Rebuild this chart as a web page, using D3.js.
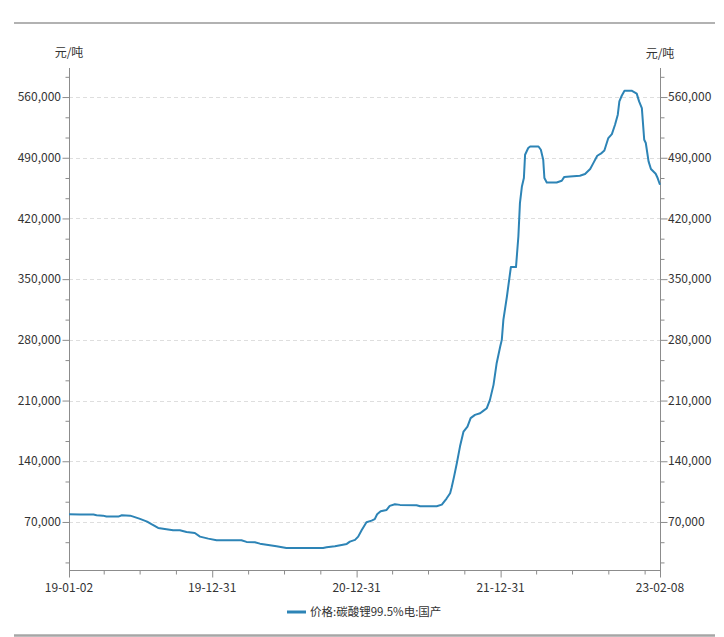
<!DOCTYPE html>
<html>
<head>
<meta charset="utf-8">
<script src="https://cdn.jsdelivr.net/npm/d3@7"></script>
<style>
  html, body { margin: 0; padding: 0; background: #fff; }
  svg { display: block; }
  text { font-family: "Noto Sans CJK SC", "Noto Sans", sans-serif; fill: #333; }
</style>
</head>
<body>
<svg id="chart" width="724" height="637"></svg>
<script>
// ---- data ----
const dates = [
  "2019-01-02","2019-01-30","2019-03-05","2019-03-13","2019-03-29","2019-04-07","2019-05-07","2019-05-16",
  "2019-06-06","2019-06-14","2019-07-01","2019-07-19","2019-07-30","2019-08-16","2019-09-06","2019-09-23",
  "2019-10-10","2019-10-27","2019-11-17","2019-11-30","2019-12-21","2020-01-11","2020-02-05","2020-03-14",
  "2020-03-27","2020-04-17","2020-04-30","2020-05-21","2020-06-11","2020-07-06","2020-10-07","2020-10-16",
  "2020-11-06","2020-11-23","2020-12-06","2020-12-14","2020-12-27","2021-01-04","2021-01-13","2021-01-25",
  "2021-02-07","2021-02-15","2021-02-21","2021-03-02","2021-03-17","2021-03-25","2021-04-07","2021-04-20",
  "2021-06-01","2021-06-10","2021-07-22","2021-08-04","2021-08-16","2021-08-25","2021-08-29","2021-09-04",
  "2021-09-11","2021-09-19","2021-09-28","2021-10-08","2021-10-16","2021-10-27","2021-11-09","2021-11-17",
  "2021-11-26","2021-12-04","2021-12-13","2021-12-21","2021-12-30","2022-01-03","2022-01-07","2022-01-16",
  "2022-01-26","2022-02-08","2022-02-14","2022-02-18","2022-02-23","2022-02-28","2022-03-03","2022-03-11",
  "2022-03-16","2022-04-06","2022-04-12","2022-04-18","2022-04-21","2022-04-27","2022-05-22","2022-06-04",
  "2022-06-10","2022-06-25","2022-07-20","2022-08-02","2022-08-15","2022-08-23","2022-09-02","2022-09-13",
  "2022-09-20","2022-09-30","2022-10-09","2022-10-17","2022-10-24","2022-10-28","2022-11-03","2022-11-10",
  "2022-11-28","2022-12-11","2022-12-17","2022-12-24","2022-12-30","2023-01-03","2023-01-10","2023-01-16",
  "2023-01-28","2023-02-02","2023-02-08"
];
const prices = [
  79000,78500,78500,77700,77300,76200,76200,77700,
  77300,76200,73500,70400,67400,63100,61600,60400,
  60400,58500,57300,53100,50800,48900,48900,48900,
  47000,46600,45000,43500,42000,40000,40000,40800,
  42000,43500,44700,47300,49300,53100,60800,69700,
  71500,73200,78900,82400,83900,88500,90500,89700,
  89300,88100,88100,90000,97000,103100,110000,122300,
  137700,156900,174200,180000,189700,193500,195400,198100,
  201200,210800,228100,253100,272300,280000,303100,330000,
  363900,363900,399200,437700,456900,466600,493500,501200,
  503000,503000,499200,487700,466600,461500,461500,463500,
  467700,468400,469300,471200,477000,483800,492300,495400,
  498400,512700,517300,528100,539600,555000,561500,567300,
  567300,563900,555000,547300,510800,507000,485800,477000,
  471500,466600,458900
];
const seriesName = "价格:碳酸锂99.5%电:国产";
const unitLabel = "元/吨";
const xLabelDates = ["2019-01-02","2019-12-31","2020-12-31","2021-12-31","2023-02-08"];
const xMinorDates = [
  "2019-03-31","2019-06-30","2019-09-30","2020-03-31","2020-06-30","2020-09-30",
  "2021-03-31","2021-06-30","2021-09-30","2022-03-31","2022-06-30","2022-09-30","2022-12-31"
];
const yDomain = [14600, 593500];
const yStep = 70000 / 3;

// ---- chart ----
const parse = d3.utcParse("%Y-%m-%d");
const fmtX = d3.utcFormat("%y-%m-%d");
const data = dates.map((d, i) => ({ date: parse(d), value: prices[i] }));

const L = 69, R = 660, T = 68, B = 570;
const svg = d3.select("#chart");

const x = d3.scaleUtc().domain([parse(dates[0]), parse(dates[dates.length - 1])]).range([L, R]);
const y = d3.scaleLinear().domain(yDomain).range([B, T]);

const axisColor = "#8c8c8c";
const lineColor = "#2d84b6";

// frame lines
svg.append("line").attr("x1", 14).attr("x2", 715).attr("y1", 23).attr("y2", 23)
  .attr("stroke", "#999").attr("stroke-width", 1.6);
svg.append("line").attr("x1", 14).attr("x2", 715).attr("y1", 635.5).attr("y2", 635.5)
  .attr("stroke", "#a6a6a6").attr("stroke-width", 2.5);

// y ticks
const yTicks = [];
for (let k = 1; k * yStep <= yDomain[1]; k++) yTicks.push({ v: k * yStep, major: k % 3 === 0 });
const yMajor = yTicks.filter(t => t.major).map(t => Math.round(t.v));

// grid
svg.append("g").selectAll("line").data(yMajor).join("line")
  .attr("x1", L).attr("x2", R)
  .attr("y1", d => Math.round(y(d)) + 0.5).attr("y2", d => Math.round(y(d)) + 0.5)
  .attr("stroke", "#dedede").attr("stroke-dasharray", "4,3");

// left axis
const leftAxis = d3.axisLeft(y).tickValues(yTicks.map(t => t.v))
  .tickSize(0).tickFormat("");
const gl = svg.append("g").attr("transform", `translate(${L + 0.5},0)`).call(leftAxis);
gl.select(".domain").attr("stroke", axisColor).attr("d", `M0,${T}V${B}`);
gl.selectAll(".tick line").attr("stroke", axisColor)
  .attr("x2", (d, i) => yTicks[i].major ? -7 : -4);
svg.append("g").selectAll("text").data(yMajor).join("text")
  .attr("x", L - 8).attr("y", d => y(d)).attr("dy", "0.35em")
  .attr("text-anchor", "end").attr("font-size", 12)
  .text(d3.format(","));

// right axis
const rightAxis = d3.axisRight(y).tickValues(yTicks.map(t => t.v))
  .tickSize(0).tickFormat("");
const gr = svg.append("g").attr("transform", `translate(${R + 0.5},0)`).call(rightAxis);
gr.select(".domain").attr("stroke", axisColor).attr("d", `M0,${T}V${B}`);
gr.selectAll(".tick line").attr("stroke", axisColor)
  .attr("x2", (d, i) => yTicks[i].major ? 7 : 4);
svg.append("g").selectAll("text").data(yMajor).join("text")
  .attr("x", R + 8).attr("y", d => y(d)).attr("dy", "0.35em")
  .attr("text-anchor", "start").attr("font-size", 12)
  .text(d3.format(","));

// unit labels
svg.append("text").attr("x", L).attr("y", 53).attr("dy", "0.35em")
  .attr("text-anchor", "middle").attr("font-size", 12).text(unitLabel);
svg.append("text").attr("x", R).attr("y", 54).attr("dy", "0.35em")
  .attr("text-anchor", "middle").attr("font-size", 12).text(unitLabel);

// x axis
const xTickAll = xLabelDates.map(d => ({ d: parse(d), major: true }))
  .concat(xMinorDates.map(d => ({ d: parse(d), major: false })));
const bottomAxis = d3.axisBottom(x).tickValues(xTickAll.map(t => t.d)).tickSize(0).tickFormat("");
const gb = svg.append("g").attr("transform", `translate(0,${B + 0.5})`).call(bottomAxis);
gb.select(".domain").attr("stroke", axisColor).attr("d", `M${L},0H${R + 1}`);
gb.selectAll(".tick line").attr("stroke", axisColor)
  .attr("y2", (d, i) => xTickAll[i].major ? 7 : 4);
svg.append("g").selectAll("text").data(xLabelDates.map(parse)).join("text")
  .attr("x", d => x(d)).attr("y", 588).attr("dy", "0.35em")
  .attr("text-anchor", "middle").attr("font-size", 12)
  .text(fmtX);

// line
const line = d3.line().x(d => x(d.date)).y(d => y(d.value));
svg.append("path").datum(data)
  .attr("d", line)
  .attr("fill", "none")
  .attr("stroke", lineColor)
  .attr("stroke-width", 2)
  .attr("stroke-linejoin", "round");

// legend
const lg = svg.append("g");
lg.append("line").attr("x1", 287).attr("x2", 306).attr("y1", 612).attr("y2", 612)
  .attr("stroke", lineColor).attr("stroke-width", 3);
lg.append("text").attr("x", 310).attr("y", 612).attr("dy", "0.35em")
  .attr("font-size", 11.5).text(seriesName);
</script>
</body>
</html>
